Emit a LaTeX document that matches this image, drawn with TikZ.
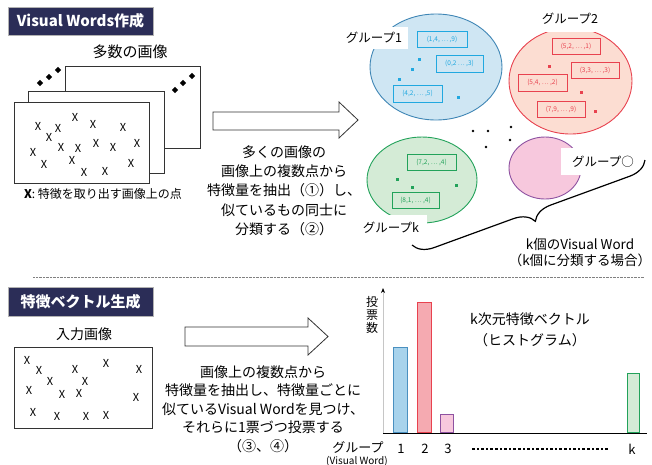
\documentclass[tikz,border=0pt]{standalone}
\usepackage{fontspec}
\setmainfont{Noto Sans CJK JP}
\usetikzlibrary{decorations.pathreplacing,shapes.geometric,arrows.meta}
\newcommand{\myfs}[2]{\fontsize{#1}{#2}\selectfont}
\definecolor{navy}{HTML}{2B2D57}
\definecolor{gAfill}{HTML}{CFE6F3}
\definecolor{gAline}{HTML}{3F86B5}
\definecolor{gAink}{HTML}{21A8E0}
\definecolor{gBfill}{HTML}{FCDDD2}
\definecolor{gBline}{HTML}{E8424F}
\definecolor{gKfill}{HTML}{D4EBD6}
\definecolor{gKline}{HTML}{22A25A}
\definecolor{gOfill}{HTML}{F7C8DD}
\definecolor{gOline}{HTML}{8E52A1}
\definecolor{barA}{HTML}{A8D3EC}
\definecolor{barAline}{HTML}{4A90C0}
\definecolor{barB}{HTML}{F5AAB1}
\tikzset{
  titlebox/.style={fill=navy, draw=gray!60, text=white, font=\bfseries\myfs{15}{18}, minimum width=145pt, minimum height=28pt, inner sep=0pt},
  imgbox/.style={draw=black!80, fill=white, line width=0.8pt, inner sep=0pt, anchor=north west},
  dia/.style={diamond, fill=black, inner sep=0pt, minimum size=6.5pt},
  xm/.style={font=\myfs{11}{12}, inner sep=0pt},
  body/.style={font=\myfs{14}{19.3}, align=center, inner sep=0pt},
  grp/.style={ellipse, line width=0.9pt, inner sep=0pt},
  lab/.style={fill=white, font=\myfs{12.5}{14}, inner sep=0pt},
  vb/.style={line width=0.9pt, font=\myfs{6.5}{8}, minimum width=48pt, minimum height=16pt, inner sep=0pt},
  sq/.style={inner sep=0pt, minimum size=3pt},
  bd/.style={circle, fill=black, inner sep=0pt, minimum size=2.8pt},
  blockarrow/.style={draw=black!80, fill=white, line width=0.8pt},
  bar/.style={anchor=south, inner sep=0pt, line width=1pt},
  hdot/.style={fill=black, inner sep=0pt, minimum size=2.6pt},
}
\begin{document}
\begin{tikzpicture}[x=1pt,y=-1pt]
\useasboundingbox (0,0) rectangle (652,464);
% ---------- section 1 ----------
\node[titlebox] (title1) at (80.5,21) {Visual Words作成};
\node[font=\myfs{15}{18}] (many) at (130,52) {多数の画像};
\node[imgbox, minimum width=135pt, minimum height=82pt] (img3) at (65,66) {};
\node[imgbox, minimum width=136pt, minimum height=82pt] (img2) at (28,91) {};
\node[imgbox, minimum width=135pt, minimum height=81pt] (img1) at (14,102) {};
\foreach \p [count=\i] in {(40,83),(49,77),(58,70)} \node[dia] (dl\i) at \p {};
\foreach \p [count=\i] in {(175,90),(183,83),(192,76)} \node[dia] (dr\i) at \p {};
\foreach \p [count=\i] in {(38,126),(49,137),(58,128),(75,117),(93,124),(123,127),(33,152),(61,147),(78,148),(96,143),(113,147),(137,143),(44,164),(72,160),(84,172),(105,171),(131,163)}
  \node[xm] (xa\i) at \p {X};
\node[font=\myfs{12}{14}] (cap) at (103,194) {\textbf{X}: 特徴を取り出す画像上の点};
% arrow 1
\path[blockarrow] (213,112) -- (339,112) -- (339,102) -- (358,120) -- (339,138) -- (339,130) -- (213,130) -- cycle;
\node[body] (t1) at (284,190.5) {多くの画像の\\画像上の複数点から\\特徴量を抽出（①）し、\\似ているもの同士に\\分類する（②）};
% group 1
\node[grp, fill=gAfill, draw=gAline, minimum width=132pt, minimum height=106pt] (g1) at (436,67) {};
\node[lab, minimum width=68pt, minimum height=22pt] (l1) at (374,38) {グループ1};
\node[vb, draw=gAink, text=gAink, minimum width=50pt] (r11) at (442,39) {(1,4, ⋯ ,9)};
\node[vb, draw=gAink, text=gAink, minimum width=47pt, minimum height=17pt] (r12) at (459.5,63.5) {(0,2 ⋯ ,3)};
\node[vb, draw=gAink, text=gAink, minimum width=49pt, minimum height=17pt] (r13) at (417.5,93.5) {(4,2, ⋯ ,5)};
\foreach \p [count=\i] in {(419,59),(412,69),(399,79),(458,97)} \node[sq, fill=gAink] (s1\i) at \p {};
% group 2
\node[grp, fill=gBfill, draw=gBline, minimum width=123pt, minimum height=106pt] (g2) at (570.5,81) {};
\node[lab, minimum width=96pt, minimum height=26pt] (l2) at (570,19) {グループ2};
\node[vb, draw=gBline, text=gBline] (r21) at (576,46) {(5,2, ⋯ ,1)};
\node[vb, draw=gBline, text=gBline] (r22) at (595,70) {(3,3, ⋯ ,3)};
\node[vb, draw=gBline, text=gBline, minimum width=49pt, minimum height=17pt] (r23) at (542.5,82.5) {(5,4, ⋯ ,2)};
\node[vb, draw=gBline, text=gBline] (r24) at (561,109) {(7,9, ⋯ ,9)};
\foreach \p [count=\i] in {(549,66),(581,92),(595,111)} \node[sq, fill=gBline] (s2\i) at \p {};
% scattered dots
\foreach \p [count=\i] in {(473,131),(488,131),(511,127),(486,147),(510,140)} \node[bd] (bd\i) at \p {};
% group o
\node[grp, fill=gOfill, draw=gOline, minimum width=72pt, minimum height=62pt] (go) at (545,168) {};
\node[lab, minimum width=84pt, minimum height=27pt] (lo) at (603,161.5) {グループ○};
% group k
\node[grp, fill=gKfill, draw=gKline, minimum width=110pt, minimum height=86pt] (gk) at (422,180) {};
\node[lab, minimum width=72pt, minimum height=26pt] (lk) at (391,228) {グループk};
\node[vb, draw=gKline, text=gKline, minimum width=49pt] (rk1) at (431.5,162) {(7,2, ⋯ ,4)};
\node[vb, draw=gKline, text=gKline, minimum width=47pt] (rk2) at (415.5,200) {(8,1, ⋯ ,4)};
\foreach \p [count=\i] in {(397,179),(412,187),(456,185)} \node[sq, fill=gKline] (sk\i) at \p {};
% brace
\coordinate (brA) at (645,160);
\coordinate (brB) at (412,245);
\draw[decorate, decoration={brace, amplitude=20pt}, line width=1.2pt] (brA) -- (brB);
\node[font=\myfs{13.5}{16}, align=center, inner sep=0pt] (kvw) at (580,252.5) {k個のVisual Word\\（k個に分類する場合）};
% separator
\coordinate (sepL) at (33,277);
\coordinate (sepR) at (644,277);
\draw[gray, line width=0.6pt, dash pattern=on 0.7pt off 0.7pt] (sepL) -- (sepR);
% ---------- section 2 ----------
\node[titlebox, minimum height=29pt] (title2) at (80.5,301.5) {特徴ベクトル生成};
\node[font=\myfs{14}{16}] (inimg) at (84,334) {入力画像};
\node[imgbox, minimum width=138pt, minimum height=81pt] (img0) at (14,347) {};
\foreach \p [count=\i] in {(27,360),(39,370),(75,369),(106,363),(139,369),(50,381),(85,381),(29,390),(62,394),(79,393),(136,397),(33,412),(57,416),(86,416),(106,415)}
  \node[xm] (xb\i) at \p {X};
% arrow 2
\path[blockarrow] (185,327) -- (308,327) -- (308,318) -- (328,336.5) -- (308,355) -- (308,346) -- (185,346) -- cycle;
\node[body, font=\myfs{14}{18.5}] (t2) at (263,409) {画像上の複数点から\\特徴量を抽出し、特徴量ごとに\\似ているVisual Wordを見つけ、\\それらに1票づつ投票する\\（③、④）};
% histogram
\coordinate (O) at (383,433);
\coordinate (ytop) at (383,288);
\coordinate (xend) at (647,433);
\draw[gray!45, line width=1pt, -{Stealth[length=5pt,width=4pt,black]}] (O) -- (ytop);
\node[font=\myfs{12}{13}, align=center, inner sep=0pt] (vote) at (372,315) {投\\票\\数};
\node[bar, fill=barA, draw=barAline, minimum width=14pt, minimum height=85pt] (b1) at (400,433) {};
\node[bar, fill=barB, draw=gBline, minimum width=14pt, minimum height=130pt] (b2) at (424,433) {};
\node[bar, fill=gOfill, draw=gOline, minimum width=13pt, minimum height=18pt] (b3) at (446.5,433) {};
\node[bar, fill=gKfill, draw=gKline, minimum width=12pt, minimum height=59pt] (bk) at (633.5,433) {};
\draw[black, line width=1pt] (O) -- (xend);
\node[font=\myfs{13}{14}] (n1) at (401,449) {1};
\node[font=\myfs{13}{14}] (n2) at (425,449) {2};
\node[font=\myfs{13}{14}] (n3) at (448,449) {3};
\node[font=\myfs{13}{14}] (nk) at (632,449) {k};
\foreach \i in {0,...,29} \node[hdot] (hd\i) at ({473.3+4.6*\i},449) {};
\node[font=\myfs{13}{14}] (grpl) at (358,447) {グループ};
\node[font=\myfs{10}{11}] (vwl) at (357,461) {(Visual Word)};
\node[font=\myfs{14}{21}, align=center, inner sep=0pt] (kdim) at (530,329.5) {k次元特徴ベクトル\\（ヒストグラム）};
\end{tikzpicture}
\end{document}
